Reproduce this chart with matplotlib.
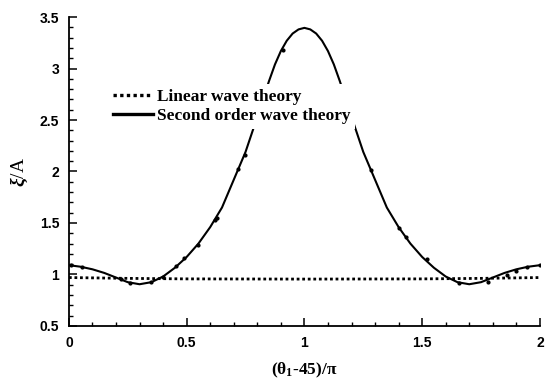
import numpy as np
import matplotlib.pyplot as plt

# second order wave theory curve
x_second = [0.00, 0.05, 0.10, 0.15, 0.20, 0.25, 0.30, 0.35, 0.40, 0.45,
            0.50, 0.55, 0.60, 0.65, 0.70, 0.75, 0.775, 0.80, 0.825, 0.85,
            0.875, 0.90, 0.925, 0.95, 0.975, 1.00, 1.025, 1.05, 1.075, 1.10,
            1.125, 1.15, 1.175, 1.20, 1.225, 1.25, 1.30, 1.35, 1.40, 1.45,
            1.50, 1.55, 1.60, 1.65, 1.70, 1.75, 1.80, 1.85, 1.90, 1.95, 2.00]
y_second = [1.09, 1.075, 1.05, 1.015, 0.97, 0.925, 0.905, 0.925, 0.98, 1.065,
            1.17, 1.30, 1.46, 1.65, 1.92, 2.19, 2.36, 2.53, 2.71, 2.88,
            3.04, 3.17, 3.27, 3.34, 3.38, 3.395, 3.38, 3.34, 3.27, 3.17,
            3.04, 2.88, 2.71, 2.53, 2.36, 2.19, 1.92, 1.65, 1.46, 1.30,
            1.17, 1.065, 0.98, 0.925, 0.905, 0.925, 0.97, 1.015, 1.05, 1.075, 1.09]

# linear wave theory
x_linear = [0.0, 0.25, 0.5, 1.0, 1.5, 1.75, 2.0]
y_linear = [0.97, 0.962, 0.957, 0.955, 0.957, 0.962, 0.97]

# small sample points sitting on the curve
x_pts = [0.01, 0.055, 0.22, 0.26, 0.35, 0.40, 0.455, 0.49, 0.547, 0.62, 0.627,
         0.716, 0.746, 0.91, 1.283, 1.40, 1.43, 1.52, 1.657, 1.78, 1.86, 1.90,
         1.945, 2.0]
y_pts = [1.09, 1.07, 0.955, 0.92, 0.925, 0.975, 1.08, 1.16, 1.29, 1.53, 1.55,
         2.02, 2.16, 3.18, 2.01, 1.45, 1.36, 1.15, 0.917, 0.93, 0.995, 1.03,
         1.07, 1.09]

plt.rcParams['mathtext.fontset'] = 'custom'
plt.rcParams['mathtext.rm'] = 'Liberation Serif:bold'
plt.rcParams['mathtext.it'] = 'Liberation Serif:bold:italic'
plt.rcParams['mathtext.bf'] = 'Liberation Serif:bold'

fig = plt.figure(figsize=(5.47, 3.79), dpi=100)
ax = fig.add_axes([0.126, 0.140, 0.861, 0.815])

ax.plot(x_linear, y_linear, color='black', lw=2.0, ls=(0, (1, 1)),
        label='Linear wave theory')
ax.plot(x_second, y_second, color='black', lw=1.5,
        label='Second order wave theory')
ax.plot(x_pts, y_pts, 'o', color='black', ms=2.0, zorder=3)

ax.set_xlim(0, 2)
ax.set_ylim(0.5, 3.5)
ax.set_xticks([0, 0.5, 1, 1.5, 2])
ax.set_xticklabels(['0', '0.5', '1', '1.5', '2'])
ax.set_yticks([0.5, 1, 1.5, 2, 2.5, 3, 3.5])
ax.set_yticklabels(['0.5', '1', '1.5', '2', '2.5', '3', '3.5'])
ax.set_xticks(np.arange(0, 2.01, 0.1), minor=True)
ax.set_yticks(np.arange(0.5, 3.51, 0.1), minor=True)

for s in ['top', 'right']:
    ax.spines[s].set_visible(False)
for s in ['left', 'bottom']:
    ax.spines[s].set_linewidth(1.3)

ax.tick_params(which='major', direction='in', length=5.8, width=1.1, pad=7)
ax.tick_params(which='minor', direction='in', length=2.9, width=1.0)
for lab in ax.get_xticklabels() + ax.get_yticklabels():
    lab.set_fontfamily('Liberation Sans')
    lab.set_fontweight('bold')
    lab.set_fontsize(10)

ax.set_xlabel(r'($\mathrm{\theta_1}$-45)/$\mathrm{\pi}$', fontsize=12.5,
              fontfamily='Liberation Serif', fontweight='bold', labelpad=8)
ax.set_ylabel(r'$\xi$/A', fontsize=14, fontfamily='Liberation Serif',
              labelpad=7)

leg = ax.legend(loc='upper left', bbox_to_anchor=(0.083, 0.783),
                prop={'family': 'Liberation Serif', 'weight': 'bold', 'size': 12.5},
                frameon=True, fancybox=False, borderpad=0.3, borderaxespad=0,
                handlelength=2.3, handletextpad=0.2, labelspacing=0.15)
leg.get_frame().set_facecolor('white')
leg.get_frame().set_edgecolor('none')
leg.get_frame().set_alpha(1)
for line in leg.get_lines():
    line.set_linewidth(2.4)

fig.savefig('out.png', dpi=100)
